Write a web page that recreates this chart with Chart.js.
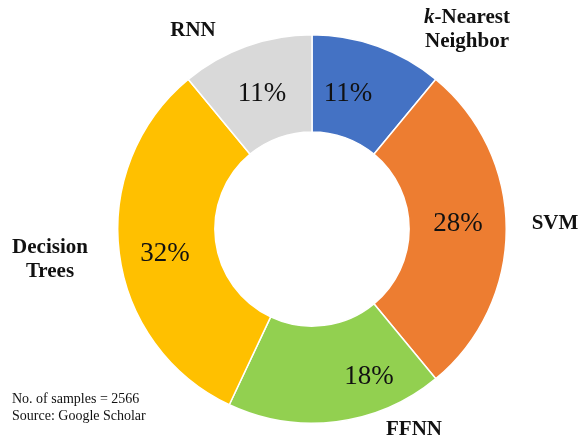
<!DOCTYPE html>
<html>
<head>
<meta charset="utf-8">
<script src="https://cdn.jsdelivr.net/npm/chart.js@4"></script>
<style>
  html, body { margin: 0; padding: 0; background: #fff; }
  #wrap { width: 579px; height: 443px; position: relative; }
</style>
</head>
<body>
<div id="wrap"><canvas id="chart" width="579" height="443"></canvas></div>
<script>
'use strict';

// Share of ML methods, clockwise from 12 o'clock
const METHODS = ['k-Nearest Neighbor', 'SVM', 'FFNN', 'Decision Trees', 'RNN'];
const SHARES = [11, 28, 18, 32, 11];
const COLORS = ['#4472C4', '#ED7D31', '#92D050', '#FFC000', '#D9D9D9'];
const NOTES = ['No. of samples = 2566', 'Source: Google Scholar'];

// Placement of text relative to the doughnut centre (px)
const PCT_OFFSETS = [[36, -135], [146, -5], [57, 148], [-147, 25], [-50, -135]];
const NAME_OFFSETS = [[155, -199], [243, -5], [102, 201], [-262, 31], [-119, -198]];

const SERIF = '"Liberation Serif", "Times New Roman", serif';

const textPlugin = {
  id: 'sliceText',
  afterDraw(chart) {
    const ctx = chart.ctx;
    const arc = chart.getDatasetMeta(0).data[0];
    const cx = arc.x, cy = arc.y;
    ctx.save();
    ctx.textAlign = 'center';
    ctx.textBaseline = 'middle';
    ctx.fillStyle = '#111';

    // percentages inside the ring
    ctx.font = '27px ' + SERIF;
    SHARES.forEach((v, i) => {
      const [dx, dy] = PCT_OFFSETS[i];
      ctx.fillText(v + '%', cx + dx, cy + dy);
    });

    // method names around the ring
    ctx.font = 'bold 21px ' + SERIF;
    METHODS.forEach((name, i) => {
      const [dx, dy] = NAME_OFFSETS[i];
      const x = cx + dx, y = cy + dy;
      if (i === 0) {
        // italic k, then the rest
        const a = 'k', b = '-Nearest';
        ctx.font = 'bold italic 21px ' + SERIF;
        const wa = ctx.measureText(a).width;
        ctx.font = 'bold 21px ' + SERIF;
        const wb = ctx.measureText(b).width;
        const x0 = x - (wa + wb) / 2;
        ctx.textAlign = 'left';
        ctx.font = 'bold italic 21px ' + SERIF;
        ctx.fillText(a, x0, y - 12);
        ctx.font = 'bold 21px ' + SERIF;
        ctx.fillText(b, x0 + wa, y - 12);
        ctx.textAlign = 'center';
        ctx.fillText('Neighbor', x, y + 12);
      } else if (name === 'Decision Trees') {
        ctx.fillText('Decision', x, y - 12);
        ctx.fillText('Trees', x, y + 12);
      } else {
        ctx.fillText(name, x, y);
      }
    });

    // footnote
    ctx.font = '14px ' + SERIF;
    ctx.textAlign = 'left';
    NOTES.forEach((t, i) => ctx.fillText(t, 12, 399 + i * 17));
    ctx.restore();
  }
};

new Chart(document.getElementById('chart'), {
  type: 'doughnut',
  data: {
    labels: METHODS,
    datasets: [{
      data: SHARES,
      backgroundColor: COLORS,
      borderColor: '#fff',
      borderWidth: 1.5,
    }],
  },
  options: {
    responsive: false,
    animation: false,
    cutout: '50%',
    layout: { padding: { left: 117, right: 72, top: 33, bottom: 18 } },
    plugins: { legend: { display: false }, tooltip: { enabled: false } },
  },
  plugins: [textPlugin],
});
</script>
</body>
</html>
